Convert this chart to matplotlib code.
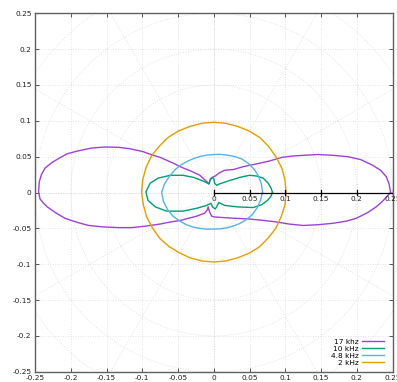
import numpy as np
import matplotlib
matplotlib.use("Agg")
import matplotlib.pyplot as plt

# 17 kHz and 10 kHz traces as (x, y) points
khz17_x = [0.247, 0.245, 0.241, 0.233, 0.222, 0.205, 0.187, 0.165, 0.145, 0.128,
           0.111, 0.095, 0.078, 0.060, 0.050, 0.041, 0.027, 0.015, 0.007, 0.002,
           -0.001, -0.0046, -0.0066, -0.012, -0.0195, -0.030, -0.047, -0.057, -0.075, -0.085,
           -0.099, -0.117, -0.133, -0.152, -0.171, -0.190, -0.205, -0.216, -0.226, -0.236,
           -0.241, -0.244, -0.245, -0.243, -0.238, -0.233, -0.220, -0.208, -0.190, -0.175,
           -0.155, -0.133, -0.115, -0.096, -0.075, -0.060, -0.047, -0.024, -0.013, -0.009,
           -0.008, -0.006, -0.003, 0.0, 0.013, 0.030, 0.050, 0.070, 0.087, 0.105,
           0.125, 0.145, 0.166, 0.185, 0.199, 0.215, 0.227, 0.236, 0.247]
khz17_y = [0.0, 0.012, 0.022, 0.031, 0.038, 0.046, 0.050, 0.052, 0.053, 0.052,
           0.051, 0.049, 0.044, 0.040, 0.038, 0.036, 0.032, 0.031, 0.027, 0.023,
           0.0217, 0.0195, 0.0120, 0.017, 0.024, 0.029, 0.036, 0.041, 0.049, 0.052,
           0.057, 0.061, 0.063, 0.0635, 0.062, 0.058, 0.054, 0.048, 0.042, 0.034,
           0.025, 0.015, 0.001, -0.009, -0.015, -0.020, -0.029, -0.036, -0.042, -0.046,
           -0.048, -0.049, -0.049, -0.047, -0.044, -0.041, -0.039, -0.033, -0.029, -0.024,
           -0.020, -0.027, -0.033, -0.034, -0.035, -0.036, -0.037, -0.039, -0.041, -0.044,
           -0.046, -0.045, -0.043, -0.040, -0.036, -0.028, -0.020, -0.012, 0.0]

khz10_x = [0.082, 0.080, 0.076, 0.069, 0.060, 0.050, 0.036, 0.020, 0.008, 0.004,
           0.001, 0.0, -0.002, -0.005, -0.007, -0.015, -0.028, -0.043, -0.061, -0.078,
           -0.089, -0.095, -0.092, -0.082, -0.066, -0.043, -0.024, -0.010, -0.004, -0.002,
           0.002, 0.005, 0.007, 0.015, 0.032, 0.055, 0.067, 0.075, 0.080, 0.082]
khz10_y = [0.0, 0.006, 0.013, 0.020, 0.023, 0.024, 0.021, 0.016, 0.012, 0.010,
           0.013, 0.019, 0.021, 0.018, 0.012, 0.016, 0.021, 0.024, 0.024, 0.020,
           0.013, 0.001, -0.011, -0.020, -0.026, -0.026, -0.022, -0.018, -0.015, -0.020,
           -0.023, -0.018, -0.014, -0.018, -0.020, -0.021, -0.017, -0.011, -0.005, 0.0]

# 4.8 kHz and 2 kHz traces, radius read every 10 degrees
angles_deg = list(range(0, 361, 10))
khz4_8_r = [0.068, 0.0675, 0.0665, 0.065, 0.063, 0.061, 0.058, 0.0555, 0.054, 0.053,
            0.053, 0.0537, 0.055, 0.057, 0.060, 0.063, 0.066, 0.070, 0.073, 0.0715,
            0.069, 0.066, 0.062, 0.059, 0.056, 0.0535, 0.052, 0.051, 0.0515, 0.0525,
            0.054, 0.0565, 0.059, 0.062, 0.064, 0.066, 0.068]
khz2_r = [0.101, 0.101, 0.101, 0.100, 0.100, 0.100, 0.099, 0.098, 0.098, 0.098,
          0.098, 0.098, 0.099, 0.100, 0.100, 0.101, 0.101, 0.101, 0.101, 0.100,
          0.100, 0.099, 0.099, 0.098, 0.097, 0.097, 0.097, 0.097, 0.097, 0.097,
          0.098, 0.099, 0.099, 0.100, 0.100, 0.101, 0.101]

labels = ["17 khz", "10 kHz", "4.8 kHz", "2 kHz"]
colors = ["#a040d8", "#009e73", "#56b4e9", "#e69f00"]

tick_vals = [-0.25, -0.2, -0.15, -0.1, -0.05, 0, 0.05, 0.1, 0.15, 0.2, 0.25]
tick_text = ["-0.25", "-0.2", "-0.15", "-0.1", "-0.05", "0", "0.05", "0.1", "0.15", "0.2", "0.25"]
r_tick_vals = [0, 0.05, 0.1, 0.15, 0.2, 0.25]
r_tick_text = ["0", "0.05", "0.1", "0.15", "0.2", "0.25"]
grid_radii = [0.05, 0.1, 0.15, 0.2, 0.25, 0.3, 0.35]

fig = plt.figure(figsize=(3.97, 3.82), dpi=100)
ax = fig.add_axes([35 / 397, 10.3 / 382, 357.7 / 397, 358.4 / 382])

grid_kw = dict(color="#dadada", lw=0.6, ls=(0, (1, 2)), zorder=1)

# polar grid: circles and spokes every 30 degrees
t = np.linspace(0, 2 * np.pi, 361)
for r in grid_radii:
    ax.plot(r * np.cos(t), r * np.sin(t), **grid_kw)
for a in np.deg2rad(np.arange(0, 360, 30)):
    ax.plot([0, 0.4 * np.cos(a)], [0, 0.4 * np.sin(a)], **grid_kw)

# rectangular grid
for v in tick_vals:
    ax.axvline(v, **grid_kw)
    ax.axhline(v, **grid_kw)

th = np.deg2rad(angles_deg)
series = [
    (khz17_x, khz17_y),
    (khz10_x, khz10_y),
    (np.array(khz4_8_r) * np.cos(th), np.array(khz4_8_r) * np.sin(th)),
    (np.array(khz2_r) * np.cos(th), np.array(khz2_r) * np.sin(th)),
]
for (xs, ys), lab, c in zip(series, labels, colors):
    ax.plot(xs, ys, color=c, lw=1.0, label=lab, zorder=3)

# r axis along theta = 0
ax.plot([0, 0.25], [0, 0], color="black", lw=0.9, zorder=4)
for rv, rt in zip(r_tick_vals, r_tick_text):
    ax.plot([rv, rv], [-0.004, 0.004], color="black", lw=0.9, zorder=4)
    ax.annotate(rt, (rv, 0), xytext=(0, -2.6), textcoords="offset points",
                ha="center", va="top", fontsize=5.3, color="#222222", zorder=4)

ax.set_xlim(-0.25, 0.25)
ax.set_ylim(-0.25, 0.25)
ax.set_xticks(tick_vals)
ax.set_xticklabels(tick_text)
ax.set_yticks(tick_vals)
ax.set_yticklabels(tick_text)
ax.tick_params(direction="in", length=3, width=0.7, color="#555555", labelsize=5.3,
               labelcolor="#222222", top=True, right=True, pad=2.5)
for s in ax.spines.values():
    s.set_color("#606060")
    s.set_linewidth(1.0)

leg = ax.legend(loc="lower right", bbox_to_anchor=(0.976, 0.016), markerfirst=False,
                frameon=False, fontsize=5.3, handlelength=3.0, handletextpad=0.4,
                labelspacing=0.12, borderpad=0, borderaxespad=0)

fig.savefig("out.png", dpi=100)
